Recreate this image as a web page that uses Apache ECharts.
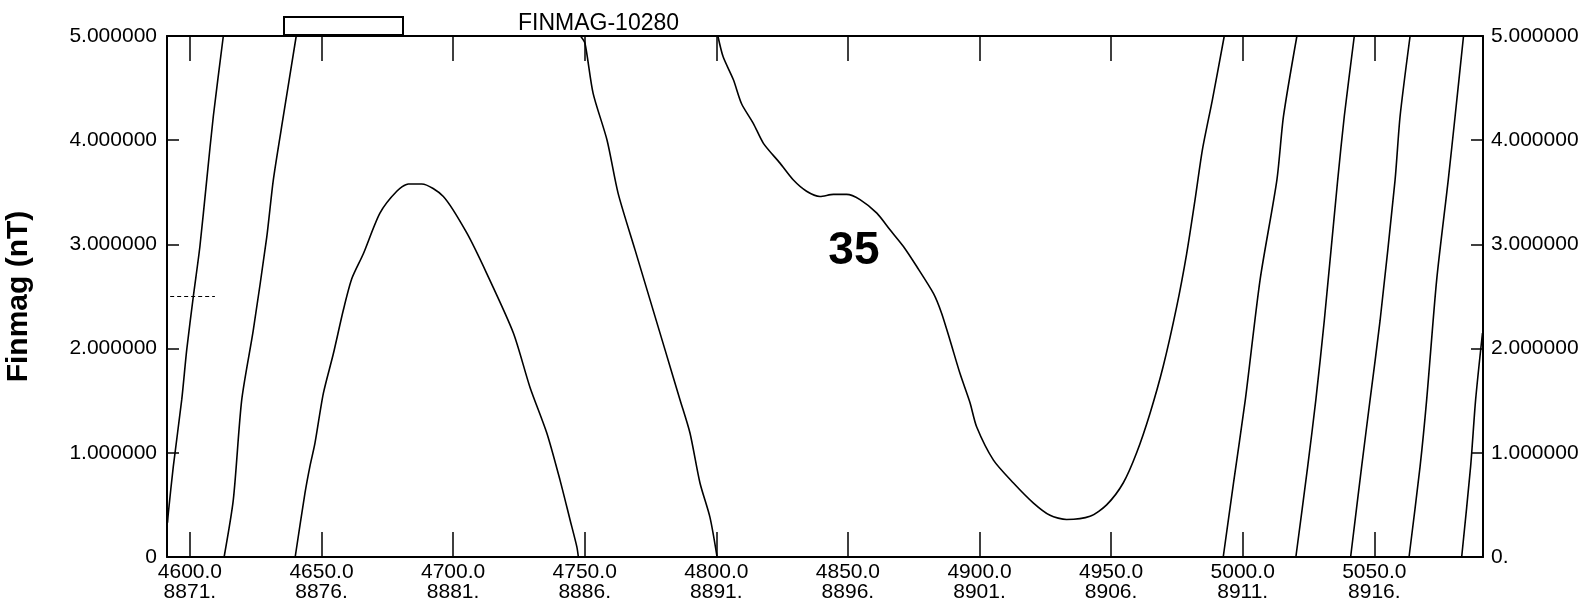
<!DOCTYPE html>
<html><head><meta charset="utf-8">
<script src="https://cdn.jsdelivr.net/npm/echarts@6/dist/echarts.min.js"></script>
<style>html,body{margin:0;padding:0;background:#fff}#c{width:1594px;height:608px}</style>
</head><body><div id="c"></div>
<script>
// ---- tick labels ----
const xTicks = [4600, 4650, 4700, 4750, 4800, 4850, 4900, 4950, 5000, 5050];
const xTickLabels = ['4600.0','4650.0','4700.0','4750.0','4800.0','4850.0','4900.0','4950.0','5000.0','5050.0'];
const xTickLabels2 = ['8871.','8876.','8881.','8886.','8891.','8896.','8901.','8906.','8911.','8916.'];
const yTicks = [0, 1, 2, 3, 4, 5];
const yLabelsLeft = ['0','1.000000','2.000000','3.000000','4.000000','5.000000'];
const yLabelsRight = ['0.','1.000000','2.000000','3.000000','4.000000','5.000000'];
const titleText = 'FINMAG-10280';
const yName = 'Finmag (nT)';

// ---- data: trace segments (values wrap within 0..5) ----
const segA = [[4591.5,0.33],[4591.8,0.42],[4593.7,0.87],[4596.9,1.51],[4598.8,1.99],[4601.3,2.50],[4603.8,2.98],[4606.4,3.62],[4608.9,4.23],[4612.7,5.0]];
const segB = [[4613.0,0],[4616.5,0.55],[4619.7,1.51],[4624.1,2.18],[4629.2,3.07],[4631.7,3.62],[4635.5,4.23],[4640.4,5.0]];
const segC = [[4640.0,0],[4643.7,0.61],[4645.6,0.87],[4647.5,1.09],[4650.7,1.57],[4654.5,1.95],[4658.3,2.37],[4661.5,2.67],[4665.9,2.91],[4672.2,3.30],[4678.6,3.51],[4683.0,3.58],[4688.1,3.58],[4696.3,3.46],[4705.2,3.11],[4712.8,2.72],[4722.9,2.15],[4729.2,1.63],[4735.6,1.19],[4740.6,0.74],[4744.4,0.36],[4747.0,0.10],[4747.6,0]];
const segD = [[4748.4,5.0],[4750.1,4.93],[4753.2,4.45],[4758.5,4.00],[4762.7,3.49],[4769.1,2.95],[4774.8,2.47],[4780.5,1.99],[4786.2,1.51],[4790.0,1.19],[4793.8,0.71],[4797.6,0.38],[4800.3,0]];
const segE = [[4800.6,5.0],[4802.6,4.80],[4806.5,4.58],[4809.6,4.35],[4814.1,4.16],[4817.9,3.97],[4824.2,3.78],[4829.2,3.62],[4834.3,3.51],[4839.4,3.46],[4844.5,3.48],[4849.5,3.48],[4854.6,3.43],[4861.0,3.30],[4866.0,3.14],[4871.1,2.98],[4876.1,2.79],[4882.5,2.53],[4885.6,2.34],[4888.8,2.08],[4892.6,1.76],[4896.4,1.48],[4898.9,1.25],[4905.3,0.93],[4912.9,0.71],[4920.4,0.52],[4926.8,0.40],[4933.1,0.36],[4942.0,0.39],[4948.3,0.50],[4954.6,0.71],[4959.7,1.00],[4964.8,1.38],[4969.8,1.83],[4974.9,2.40],[4978.7,2.91],[4981.9,3.43],[4984.7,3.91],[4988.5,4.39],[4993.0,5.0]];
const segF = [[4992.6,0],[4996.5,0.71],[5001.0,1.51],[5006.6,2.66],[5013.0,3.62],[5015.5,4.23],[5020.6,5.0]];
const segG = [[5020.2,0],[5024.7,0.87],[5027.8,1.51],[5031.0,2.27],[5036.1,3.62],[5038.6,4.23],[5042.4,5.0]];
const segH = [[5041.0,0],[5045.2,0.87],[5048.4,1.51],[5052.2,2.27],[5057.9,3.62],[5059.8,4.23],[5063.6,5.0]];
const segI = [[5063.2,0],[5067.4,0.87],[5069.9,1.51],[5073.7,2.66],[5078.1,3.62],[5080.7,4.23],[5083.9,5.0]];
const segJ = [[5083.2,0],[5086.6,0.87],[5088.5,1.51],[5091.1,2.15]];
const refLine = [[4592.5,2.5],[4609.5,2.5]];
const annotations = [[4852.3,2.93,'35']];

const X_MIN = 4591.3, X_MAX = 5091.3;
const FONT = 'Liberation Sans';

const segments = [segA, segB, segC, segD, segE, segF, segG, segH, segI, segJ];
const series = segments.map(s => ({
  type: 'line', data: s, showSymbol: false, silent: true, smooth: 0.25,
  lineStyle: { color: '#000', width: 1.6 }, animation: false
}));
series.push({
  type: 'line', data: refLine, showSymbol: false, silent: true,
  lineStyle: { color: '#000', width: 1, type: [4, 3] }, animation: false
});
series.push({
  type: 'scatter', data: annotations, symbolSize: 0, silent: true, animation: false,
  itemStyle: { opacity: 1, color: '#000' },
  label: { show: true, position: 'inside', formatter: p => p.data[2], opacity: 1,
    fontFamily: FONT, fontSize: 46, fontWeight: 'bold', color: '#000' }
});

const chart = echarts.init(document.getElementById('c'), null, { renderer: 'canvas' });
const tickStyle = { color: '#000', width: 1.5 };
chart.setOption({
  backgroundColor: '#fff',
  animation: false,
  grid: { left: 167, right: 111, top: 36, bottom: 51, containLabel: false, outerBoundsMode: 'none' },
  xAxis: [{
    type: 'value', min: X_MIN, max: X_MAX, position: 'bottom',
    axisLine: { show: true, onZero: false, lineStyle: { color: '#000', width: 2 } },
    axisTick: { show: true, inside: true, length: 25, customValues: xTicks, lineStyle: tickStyle },
    axisLabel: { show: true, customValues: xTicks, margin: 5, fontFamily: FONT, fontSize: 21, lineHeight: 20, color: '#000',
      formatter: v => { const i = xTicks.indexOf(Math.round(v)); return i < 0 ? '' : xTickLabels[i] + '\n' + xTickLabels2[i]; } },
    splitLine: { show: false }
  }, {
    type: 'value', min: X_MIN, max: X_MAX, position: 'top',
    axisLine: { show: true, onZero: false, lineStyle: { color: '#000', width: 2 } },
    axisTick: { show: true, inside: true, length: 25, customValues: xTicks, lineStyle: tickStyle },
    axisLabel: { show: false }, splitLine: { show: false }
  }],
  yAxis: [{
    type: 'value', min: 0, max: 5, interval: 1, position: 'left',
    name: yName, nameLocation: 'middle', nameGap: 133,
    nameTextStyle: { fontFamily: FONT, fontSize: 30, fontWeight: 'bold', color: '#000' },
    axisLine: { show: true, onZero: false, lineStyle: { color: '#000', width: 2 } },
    axisTick: { show: true, inside: true, length: 12, lineStyle: tickStyle },
    axisLabel: { margin: 10, fontFamily: FONT, fontSize: 21, color: '#000',
      formatter: v => { const i = yTicks.indexOf(Math.round(v)); return i < 0 ? '' : yLabelsLeft[i]; } },
    splitLine: { show: false }
  }, {
    type: 'value', min: 0, max: 5, interval: 1, position: 'right',
    axisLine: { show: true, onZero: false, lineStyle: { color: '#000', width: 2 } },
    axisTick: { show: true, inside: true, length: 12, lineStyle: tickStyle },
    axisLabel: { margin: 8, fontFamily: FONT, fontSize: 21, color: '#000',
      formatter: v => { const i = yTicks.indexOf(Math.round(v)); return i < 0 ? '' : yLabelsRight[i]; } },
    splitLine: { show: false }
  }],
  graphic: [
    { type: 'rect', z: 100, shape: { x: 284, y: 17, width: 119, height: 18 },
      style: { fill: '#fff', stroke: '#000', lineWidth: 2 } },
    { type: 'text', z: 100, left: 518, top: 12,
      style: { text: titleText, fontFamily: FONT, fontSize: 23, fill: '#000' } }
  ],
  series: series
});
</script>
</body></html>
